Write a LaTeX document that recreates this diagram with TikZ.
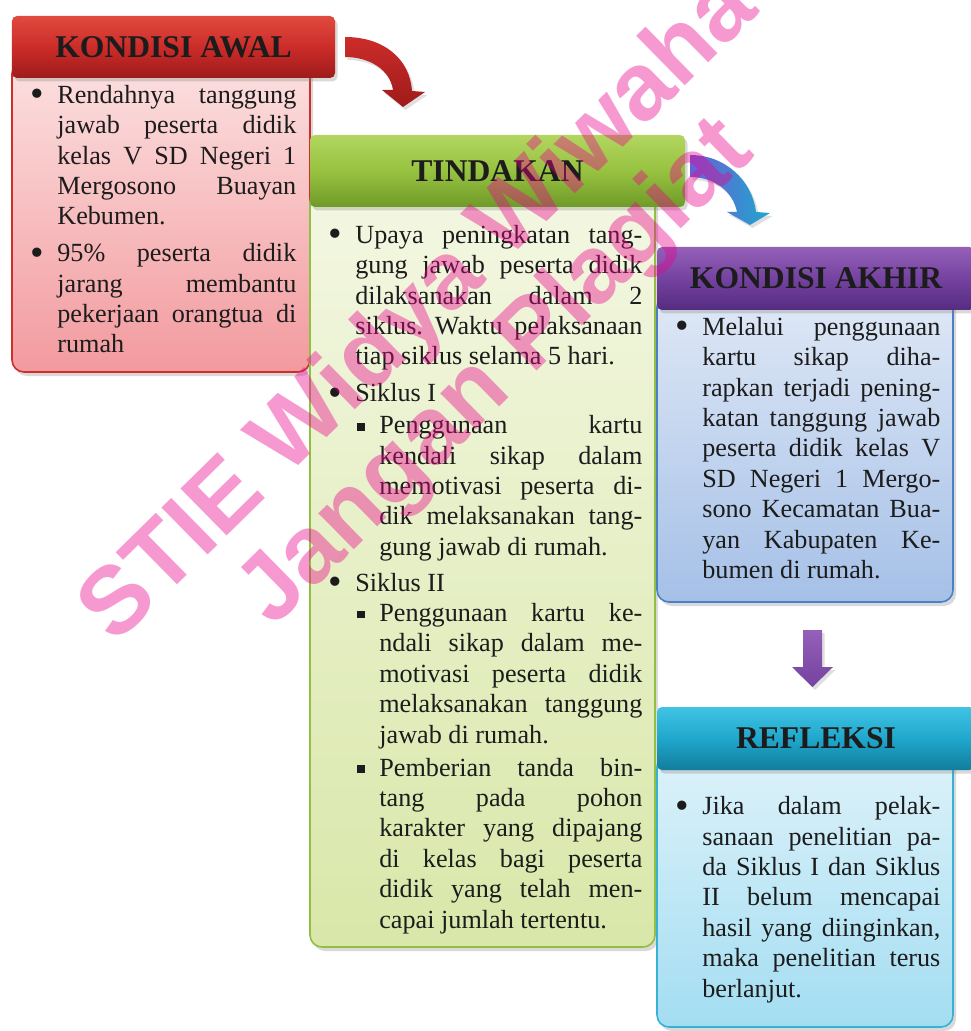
\documentclass[tikz,border=0pt]{standalone}
\usepackage{fontspec}
\setmainfont{Liberation Serif}
\newfontfamily\hurufair{Liberation Sans}
\usetikzlibrary{shadows}

\definecolor{merahatas}{HTML}{E04A3F}
\definecolor{merahtengah}{HTML}{CC2C29}
\definecolor{merahbawah}{HTML}{9E1B1B}
\definecolor{pinkatas}{HTML}{FCE0E0}
\definecolor{pinkbawah}{HTML}{F29A9E}
\definecolor{merahgaris}{HTML}{CF2F2B}
\definecolor{hijauatas}{HTML}{B2D660}
\definecolor{hijautengah}{HTML}{97C240}
\definecolor{hijaubawah}{HTML}{6E9A28}
\definecolor{krematas}{HTML}{F3F7E2}
\definecolor{krembawah}{HTML}{D9E7A9}
\definecolor{hijaugaris}{HTML}{92BE44}
\definecolor{unguatas}{HTML}{9460B8}
\definecolor{ungutengah}{HTML}{7442A0}
\definecolor{ungubawah}{HTML}{552C80}
\definecolor{biruatas}{HTML}{DFE8F6}
\definecolor{birubawah}{HTML}{A5C0E7}
\definecolor{birugaris}{HTML}{4B7FC6}
\definecolor{tosqatas}{HTML}{40C4E4}
\definecolor{tosqtengah}{HTML}{1FA7CC}
\definecolor{tosqbawah}{HTML}{127D9C}
\definecolor{langitatas}{HTML}{DDF2F9}
\definecolor{langitbawah}{HTML}{A3DDF2}
\definecolor{tosqgaris}{HTML}{37B1D4}
\definecolor{ungubiru}{HTML}{6B5DD8}
\definecolor{teks}{HTML}{1C1C1C}

\newcommand{\hurufisi}{\fontsize{14.9}{17.3}\selectfont}
\newcommand{\hurufjudul}{\fontsize{18}{20}\selectfont\bfseries}
% lines of the lists, every line its own paragraph
\newlength\lebar
\newlength\geser
\newcommand{\kolom}[1]{\setlength\lebar{#1}%
  \spaceskip=0.25em plus 1em minus 0.05em\xspaceskip=\spaceskip}
\newcommand{\titik}{\raisebox{-0.13em}{\fontsize{22}{22}\selectfont\textbullet}}
\newcommand{\poin}{\par\noindent\strut\makebox[5.4mm][l]{\titik}\setlength\geser{5.4mm}\ignorespaces}
\newcommand{\subpoin}{\par\noindent\strut\hspace*{5.8mm}\makebox[4.4mm][l]{\rule[0.12em]{1.5mm}{1.5mm}}\setlength\geser{10.2mm}\ignorespaces}
\newcommand{\jl}[1]{\hbox to \dimexpr\lebar-\geser\relax{#1}\par\noindent\hspace*{\geser}\ignorespaces}
\newcommand{\jeda}[1]{\par\vspace{#1}}

\tikzset{
  kepala/.style={rounded corners=1mm, font=\hurufjudul, text=teks,
    drop shadow={opacity=0.3, shadow xshift=0.5mm, shadow yshift=-0.7mm}},
  badan/.style={rounded corners=2.4mm, line width=0.9pt,
    drop shadow={opacity=0.3, shadow xshift=0.6mm, shadow yshift=-0.8mm}},
  isi/.style={anchor=north west, inner sep=0pt, font=\hurufisi, text=teks},
  tanda/.style={anchor=base, rotate=44.5, font=\hurufair\bfseries\fontsize{54.5}{60}\selectfont,
    text=magenta, text opacity=0.4}
}

\begin{document}
\begin{tikzpicture}[x=0.2mm, y=-0.2mm]
\useasboundingbox (0,0) rectangle (970,1031);

% kondisi awal
\node[badan, top color=pinkatas, bottom color=pinkbawah, draw=merahgaris,
  minimum width=59.6mm, minimum height=62mm] (awal) at (161,217) {};
\node[kepala, top color=merahatas, bottom color=merahbawah, middle color=merahtengah,
  minimum width=64.6mm, minimum height=12.4mm] (judulawal) at (173.5,47) {KONDISI AWAL};
\node[isi, text width=53.2mm] (teksawal) at (30,72.5) {\kolom{53.2mm}%
  \poin\jl{Rendahnya tanggung}
  \jl{jawab peserta didik}
  \jl{kelas V SD Negeri 1}
  \jl{Mergosono Buayan}
  Kebumen.
  \jeda{1.3mm}
  \poin\jl{95\% peserta didik}
  \jl{jarang membantu}
  \jl{pekerjaan orangtua di}
  rumah};

% tindakan
\node[badan, top color=krematas, bottom color=krembawah, draw=hijaugaris,
  minimum width=69mm, minimum height=151.4mm] (tindakan) at (482.5,568.5) {};
\node[kepala, top color=hijauatas, bottom color=hijaubawah, middle color=hijautengah,
  minimum width=75mm, minimum height=14.4mm] (judultindakan) at (497.5,171) {TINDAKAN};
\node[isi, text width=62.8mm] (tekstindakan) at (328,212.5) {\kolom{62.8mm}%
  \poin\jl{Upaya peningkatan tang-}
  \jl{gung jawab peserta didik}
  \jl{dilaksanakan dalam 2}
  \jl{siklus. Waktu pelaksanaan}
  tiap siklus selama 5 hari.
  \jeda{1.3mm}
  \poin Siklus I
  \jeda{0.3mm}
  \subpoin\jl{Penggunaan kartu}
  \jl{kendali sikap dalam}
  \jl{memotivasi peserta di-}
  \jl{dik melaksanakan tang-}
  gung jawab di rumah.
  \jeda{1.1mm}
  \poin Siklus II
  \subpoin\jl{Penggunaan kartu ke-}
  \jl{ndali sikap dalam me-}
  \jl{motivasi peserta didik}
  \jl{melaksanakan tanggung}
  jawab di rumah.
  \jeda{0.5mm}
  \subpoin\jl{Pemberian tanda bin-}
  \jl{tang pada pohon}
  \jl{karakter yang dipajang}
  \jl{di kelas bagi peserta}
  \jl{didik yang telah men-}
  capai jumlah tertentu.};

% kondisi akhir
\node[badan, top color=biruatas, bottom color=birubawah, draw=birugaris,
  minimum width=59.2mm, minimum height=61.4mm] (akhir) at (805,448.5) {};
\node[kepala, top color=unguatas, bottom color=ungubawah, middle color=ungutengah,
  minimum width=63.6mm, minimum height=12.6mm] (judulakhir) at (816,278.5) {KONDISI AKHIR};
\node[isi, text width=53mm] (teksakhir) at (675,304.5) {\kolom{53mm}%
  \poin\jl{Melalui penggunaan}
  \jl{kartu sikap diha-}
  \jl{rapkan terjadi pening-}
  \jl{katan tanggung jawab}
  \jl{peserta didik kelas V}
  \jl{SD Negeri 1 Mergo-}
  \jl{sono Kecamatan Bua-}
  \jl{yan Kabupaten Ke-}
  bumen di rumah.};

% refleksi
\node[badan, top color=langitatas, bottom color=langitbawah, draw=tosqgaris,
  minimum width=59.2mm, minimum height=54.4mm] (refleksi) at (805,891) {};
\node[kepala, top color=tosqatas, bottom color=tosqbawah, middle color=tosqtengah,
  minimum width=63.6mm, minimum height=12.6mm] (judulrefleksi) at (816,738.5) {REFLEKSI};
\node[isi, text width=53mm] (teksrefleksi) at (675,784) {\kolom{53mm}%
  \poin\jl{Jika dalam pelak-}
  \jl{sanaan penelitian pa-}
  \jl{da Siklus I dan Siklus}
  \jl{II belum mencapai}
  \jl{hasil yang diinginkan,}
  \jl{maka penelitian terus}
  berlanjut.};

% panah
\shade[top color=merahtengah, bottom color=merahbawah,
  drop shadow={opacity=0.25, shadow xshift=0.5mm, shadow yshift=-0.6mm}]
  (345,37) .. controls (385,37) and (410,60) .. (412,91) -- (425,92) -- (403,107)
  -- (382,90) -- (393,90) .. controls (390,70) and (370,57) .. (345,57) -- cycle;
\shade[left color=ungubiru, right color=tosqtengah,
  drop shadow={opacity=0.25, shadow xshift=0.5mm, shadow yshift=-0.6mm}]
  (690,155) .. controls (725,155) and (752,180) .. (756,212) -- (770,213) -- (750,225)
  -- (727,212) -- (737,212) .. controls (733,192) and (715,177) .. (690,177) -- cycle;
\shade[top color=unguatas, bottom color=ungutengah,
  drop shadow={opacity=0.25, shadow xshift=0.5mm, shadow yshift=-0.6mm}]
  (803,630) -- (822,630) -- (822,667) -- (833,667) -- (812.5,687) -- (792,667)
  -- (803,667) -- cycle;

% tanda air
\node[tanda] (tanda1) at (438,329) {STIE Widya Wiwaha};
\node[tanda] (tanda2) at (515,392) {Jangan Plagiat};
\end{tikzpicture}
\end{document}
